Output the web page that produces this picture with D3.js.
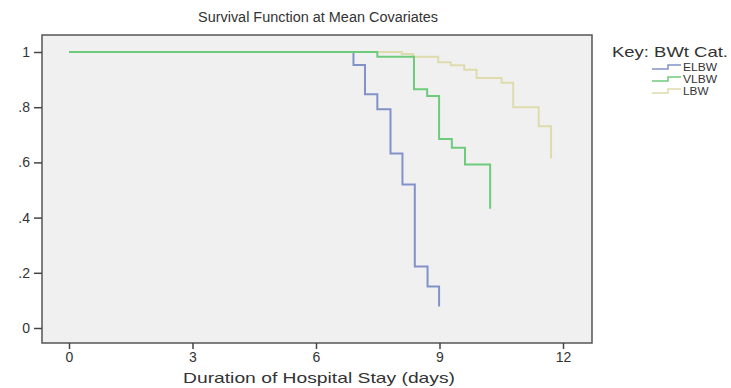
<!DOCTYPE html>
<html>
<head>
<meta charset="utf-8">
<script src="https://cdn.jsdelivr.net/npm/d3@7"></script>
<style>
  body { margin: 0; background: #fff; }
  svg text { font-family: "Liberation Sans", Arial, sans-serif; fill: #333; }
</style>
</head>
<body>
<div id="chart"></div>
<script>
// survival curves (time in days, survival proportion)
var elbwTimes = [0, 6.91, 7.19, 7.49, 7.81, 8.10, 8.40, 8.71, 8.99];
var elbwSurv  = [1, 0.953, 0.847, 0.793, 0.632, 0.520, 0.223, 0.150, 0.078];

var vlbwTimes = [0, 7.49, 8.38, 8.70, 8.99, 9.30, 9.62, 10.23];
var vlbwSurv  = [1, 0.983, 0.865, 0.841, 0.685, 0.653, 0.592, 0.432];

var lbwTimes = [0, 8.08, 8.36, 8.97, 9.27, 9.60, 9.90, 10.51, 10.79, 11.41, 11.71];
var lbwSurv  = [1, 0.993, 0.983, 0.963, 0.952, 0.936, 0.906, 0.889, 0.800, 0.731, 0.614];

var xTicks = [0, 3, 6, 9, 12];
var yTicks = [0, 0.2, 0.4, 0.6, 0.8, 1];
var yTickLabels = ["0", ".2", ".4", ".6", ".8", "1"];

var seriesNames = ["ELBW", "VLBW", "LBW"];
var seriesColors = ["#8292c8", "#6fcb7c", "#dedcac"];

var width = 731, height = 388;
var box = { left: 42, top: 35, right: 592, bottom: 343 };

var svg = d3.select("#chart").append("svg")
    .attr("width", width)
    .attr("height", height);

var x = d3.scaleLinear().domain([0, 12]).range([69, 563]);
var y = d3.scaleLinear().domain([0, 1]).range([328, 52]);

// plot background + frame
svg.append("rect")
    .attr("x", box.left).attr("y", box.top)
    .attr("width", box.right - box.left).attr("height", box.bottom - box.top)
    .attr("fill", "#f0f0f0")
    .attr("stroke", "#555").attr("stroke-width", 1.5);

// title (source picture is stretched sideways, so text widths are forced)
svg.append("text")
    .attr("x", 198).attr("y", 22)
    .attr("font-size", "14px")
    .attr("textLength", 240).attr("lengthAdjust", "spacingAndGlyphs")
    .text("Survival Function at Mean Covariates");

// axes
var yAxis = d3.axisLeft(y)
    .tickValues(yTicks)
    .tickFormat(function (d, i) { return yTickLabels[i]; })
    .tickSize(8).tickPadding(4);
var gy = svg.append("g").attr("transform", "translate(" + box.left + ",0)").call(yAxis);

var xAxis = d3.axisBottom(x)
    .tickValues(xTicks)
    .tickSize(6).tickPadding(3);
var gx = svg.append("g").attr("transform", "translate(0," + box.bottom + ")").call(xAxis);

[gy, gx].forEach(function (g) {
  g.select(".domain").remove();
  g.selectAll(".tick line").attr("stroke", "#444").attr("stroke-width", 1.5);
  g.selectAll(".tick text").attr("font-size", "14px").attr("fill", "#333")
    .attr("font-family", "Liberation Sans, Arial, sans-serif");
});

svg.append("text")
    .attr("x", 183).attr("y", 383)
    .attr("font-size", "15px")
    .attr("textLength", 272).attr("lengthAdjust", "spacingAndGlyphs")
    .text("Duration of Hospital Stay (days)");

// step lines
var line = d3.line()
    .x(function (d) { return x(d[0]); })
    .y(function (d) { return y(d[1]); })
    .curve(d3.curveStepAfter);

var series = [
  { name: "ELBW", pts: d3.zip(elbwTimes, elbwSurv), color: seriesColors[0] },
  { name: "LBW",  pts: d3.zip(lbwTimes, lbwSurv),   color: seriesColors[2] },
  { name: "VLBW", pts: d3.zip(vlbwTimes, vlbwSurv), color: seriesColors[1] }
];

svg.selectAll("path.km")
    .data(series)
    .enter()
    .append("path")
    .attr("class", "km")
    .attr("fill", "none")
    .attr("stroke", function (d) { return d.color; })
    .attr("stroke-width", 2)
    .attr("d", function (d) { return line(d.pts); });

// legend
svg.append("text")
    .attr("x", 612).attr("y", 57)
    .attr("font-size", "15px")
    .attr("textLength", 116).attr("lengthAdjust", "spacingAndGlyphs")
    .text("Key: BWt Cat.");

var leg = svg.selectAll("g.leg")
    .data(seriesNames)
    .enter()
    .append("g")
    .attr("class", "leg")
    .attr("transform", function (d, i) { return "translate(652," + (67 + i * 12) + ")"; });

leg.append("path")
    .attr("fill", "none")
    .attr("stroke", function (d, i) { return seriesColors[i]; })
    .attr("stroke-width", 1.5)
    .attr("d", "M0,2H16V-2H29");

leg.append("text")
    .attr("x", 31).attr("y", 4)
    .attr("font-size", "10px")
    .attr("fill", "#555")
    .attr("textLength", function (d) { return d.length * 8.5; })
    .attr("lengthAdjust", "spacingAndGlyphs")
    .text(function (d) { return d; });
</script>
</body>
</html>
